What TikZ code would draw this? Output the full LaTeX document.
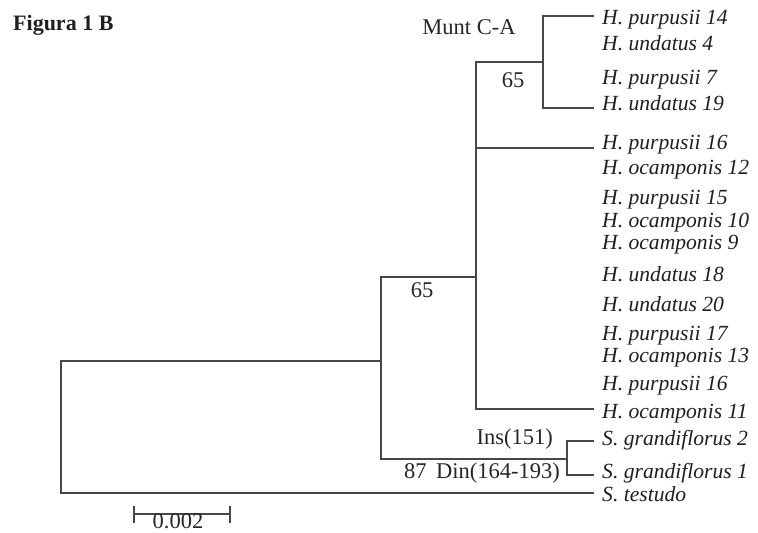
\documentclass[tikz,border=0pt]{standalone}
\usepackage{fontspec}
\setmainfont{Liberation Serif}
\begin{document}
\begin{tikzpicture}[x=1pt,y=-1pt,
  branch/.style={draw=black!72, line width=1.6pt, line cap=rect},
  leaf/.style={anchor=base west, inner sep=0pt, font=\fontsize{21.6}{24}\selectfont\itshape, text=black!88},
  lab/.style={inner sep=0pt, font=\fontsize{22.5}{25}\selectfont, text=black!85},
  title/.style={inner sep=0pt, font=\fontsize{22}{24}\selectfont\bfseries, text=black!88}]
\useasboundingbox (0,0) rectangle (758,533);

% title
\node[title, anchor=west] (title) at (13,25) {Figura 1 B};

% leaves
\node[leaf] (l1)  at (602,24)  {H. purpusii 14};
\node[leaf] (l2)  at (602,50)  {H. undatus 4};
\node[leaf] (l3)  at (602,84)  {H. purpusii 7};
\node[leaf] (l4)  at (602,110) {H. undatus 19};
\node[leaf] (l5)  at (602,149) {H. purpusii 16};
\node[leaf] (l6)  at (602,174) {H. ocamponis 12};
\node[leaf] (l7)  at (602,204) {H. purpusii 15};
\node[leaf] (l8)  at (602,227) {H. ocamponis 10};
\node[leaf] (l9)  at (602,249) {H. ocamponis 9};
\node[leaf] (l10) at (602,281) {H. undatus 18};
\node[leaf] (l11) at (602,311) {H. undatus 20};
\node[leaf] (l12) at (602,340) {H. purpusii 17};
\node[leaf] (l13) at (602,362) {H. ocamponis 13};
\node[leaf] (l14) at (602,390) {H. purpusii 16};
\node[leaf] (l15) at (602,418) {H. ocamponis 11};
\node[leaf] (l16) at (602,445) {S. grandiflorus 2};
\node[leaf] (l17) at (602,478) {S. grandiflorus 1};
\node[leaf] (l18) at (602,501) {S. testudo};

% tree nodes and tips
\coordinate (root) at (61,361);
\coordinate (nA) at (381,361);
\coordinate (nH) at (476,277);
\coordinate (nM) at (543,62);
\coordinate (nS) at (567,459);
\coordinate (tP14) at (593,16);
\coordinate (tU19) at (593,108);
\coordinate (tP16) at (593,148);
\coordinate (tO11) at (593,409);
\coordinate (tG2) at (593,441);
\coordinate (tG1) at (593,475);
\coordinate (tT) at (593,493);

% branches
\draw[branch] (nA) -- (root) |- (tT);
\draw[branch] (nH) -| (nA) |- (nS);
\draw[branch] (tG2) -| (nS) |- (tG1);
\draw[branch] (nM) -| (nH) |- (tO11);
\draw[branch] (nH |- tP16) -- (tP16);
\draw[branch] (tP14) -| (nM) |- (tU19);

% labels
\node[lab] (munt) at (469,27) {Munt C-A};
\node[lab] (b1) at (513,80) {65};
\node[lab] (b2) at (422,290) {65};
\node[lab, anchor=east] (ins) at (553,439) {Ins(151)};
\node[lab, anchor=east] (din) at (560,473) {87\ \,Din(164-193)};

% scale bar
\coordinate (sL) at (134,514);
\coordinate (sR) at (230,514);
\draw[branch, line cap=butt] (sL) -- (sR);
\draw[branch, line cap=butt] ([yshift=-9pt]sL) -- ([yshift=8pt]sL);
\draw[branch, line cap=butt] ([yshift=-9pt]sR) -- ([yshift=8pt]sR);
\node[lab, anchor=base] (scale) at (178,528.5) {0.002};
\end{tikzpicture}
\end{document}
